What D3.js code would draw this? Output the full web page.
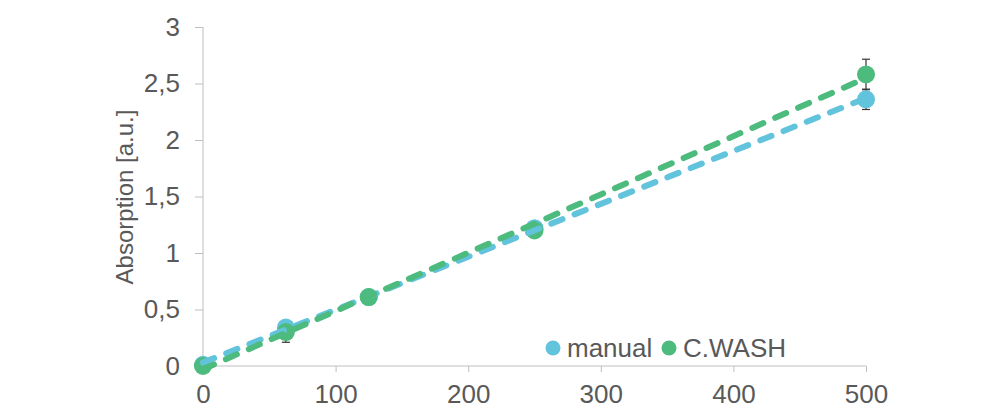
<!DOCTYPE html>
<html><head><meta charset="utf-8">
<script src="https://cdn.jsdelivr.net/npm/d3@7"></script>
<style>body{margin:0;background:#fff}text{font-family:"Liberation Sans",Arial,sans-serif;fill:#595959}</style>
</head><body><svg id="c" width="981" height="417"></svg>
<script>
const concentrations = [0, 62.5, 125, 250, 500];
const manualValues = [0.01, 0.34, 0.61, 1.22, 2.36];
const manualErrors = [0.01, 0.03, 0.02, 0.03, 0.09];
const cwashValues = [0.00, 0.30, 0.61, 1.20, 2.58];
const cwashErrors = [0.01, 0.09, 0.02, 0.03, 0.135];
const seriesNames = ["manual", "C.WASH"];
const seriesColors = ["#62C3DC", "#4DBB7D"];
const xTicks = [0, 100, 200, 300, 400, 500];
const yTicks = [0, 0.5, 1, 1.5, 2, 2.5, 3];
const yTitle = "Absorption [a.u.]";

const svg = d3.select("#c");
const x = d3.scaleLinear().domain([0, 500]).range([203, 866]);
const y = d3.scaleLinear().domain([0, 3]).range([366, 27]);
const fmt = v => String(v).replace(".", ",");

// axes
const yAxis = svg.append("g").attr("transform", "translate(203,0)")
  .call(d3.axisLeft(y).tickValues(yTicks).tickFormat(fmt).tickSize(8).tickPadding(15));
const xAxis = svg.append("g").attr("transform", "translate(0,366)")
  .call(d3.axisBottom(x).tickValues(xTicks).tickSize(6).tickPadding(13));
[yAxis, xAxis].forEach(g => {
  g.select(".domain").attr("stroke", "#BFBFBF");
  g.selectAll(".tick line").attr("stroke", "#BFBFBF");
  g.selectAll(".tick text").attr("font-size", 26).attr("fill", "#595959")
   .style("font-family", '"Liberation Sans",Arial,sans-serif');
});
xAxis.selectAll(".tick text").attr("dy", "0.71em");
yAxis.select(".domain").attr("d", "M0,27V366");
xAxis.select(".domain").attr("d", "M203,0H866");

svg.append("text").attr("transform", "translate(133,197) rotate(-90)")
  .attr("text-anchor", "middle").attr("font-size", 24).text(yTitle);

const series = [
  {name: seriesNames[0], color: seriesColors[0], vals: manualValues, errs: manualErrors},
  {name: seriesNames[1], color: seriesColors[1], vals: cwashValues, errs: cwashErrors}
];

function fit(xs, ys) {
  const mx = d3.mean(xs), my = d3.mean(ys);
  const sxy = d3.sum(xs, (d, i) => (d - mx) * (ys[i] - my));
  const sxx = d3.sum(xs, d => (d - mx) * (d - mx));
  const b = sxy / sxx; return {b, a: my - b * mx};
}

// error bars
series.forEach(s => {
  const g = svg.append("g");
  concentrations.forEach((c, i) => {
    const cx = x(c), y1 = y(s.vals[i] - s.errs[i]), y2 = y(s.vals[i] + s.errs[i]);
    g.append("line").attr("x1", cx).attr("x2", cx).attr("y1", y1).attr("y2", y2).attr("stroke", "#333").attr("stroke-width", 1.2);
    [y1, y2].forEach(yy => g.append("line").attr("x1", cx - 4).attr("x2", cx + 4).attr("y1", yy).attr("y2", yy).attr("stroke", "#333").attr("stroke-width", 1.2));
  });
});

// markers and trendlines
series.forEach(s => {
  svg.append("g").selectAll("circle").data(concentrations).join("circle")
    .attr("cx", d => x(d)).attr("cy", (d, i) => y(s.vals[i])).attr("r", 9).attr("fill", s.color);
});
series.forEach(s => {
  const f = fit(concentrations, s.vals);
  const ends = d3.extent(concentrations);
  svg.append("path").datum(ends)
    .attr("d", d3.line().x(d => x(d)).y(d => y(f.a + f.b * d)))
    .attr("fill", "none").attr("stroke", s.color).attr("stroke-width", 6)
    .attr("stroke-dasharray", "12,13").attr("stroke-linecap", "round");
});

// legend
const leg = svg.append("g");
const legX = [553, 669];
series.forEach((s, i) => {
  leg.append("circle").attr("cx", legX[i]).attr("cy", 348).attr("r", 7.5).attr("fill", s.color);
  leg.append("text").attr("x", legX[i] + 14).attr("y", 348).attr("dy", "0.35em")
    .attr("font-size", 26).text(s.name);
});
</script></body></html>
